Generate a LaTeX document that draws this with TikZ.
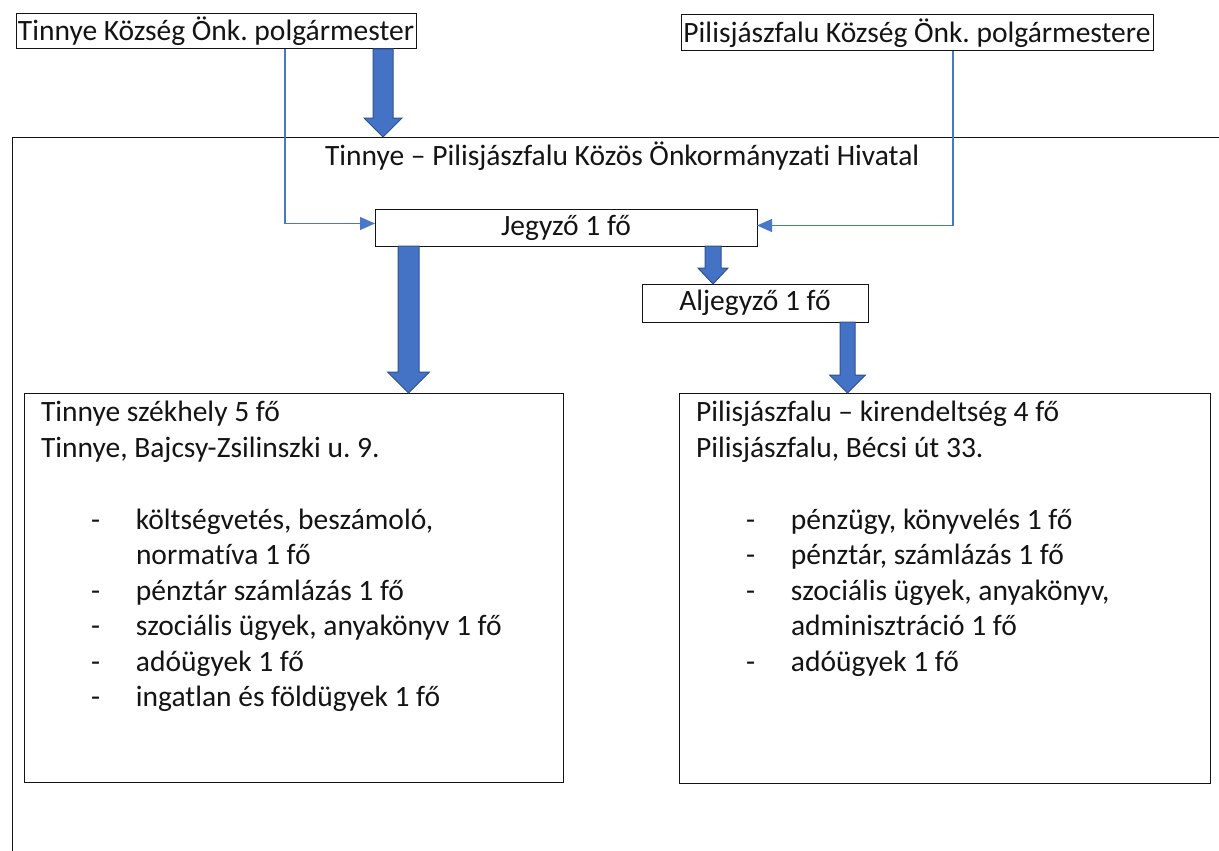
\documentclass[tikz,border=0pt]{standalone}
\usepackage{fontspec}
\setmainfont{Carlito}[Ligatures=NoCommon]
\usetikzlibrary{arrows.meta,calc}
\definecolor{arrfill}{HTML}{4472C4}
\definecolor{arrline}{HTML}{2F528F}
\definecolor{connc}{HTML}{4A78C8}
\definecolor{ink}{HTML}{141414}
\newcommand\fatarrow[6]{%
  \draw[fat] let \p1=(#2 -| #1), \p2=(#3 -| #1) in
    (\x1-#4,\y1) -- (\x1-#4,\y2+#6) -- (\x1-#5,\y2+#6) -- (\x2,\y2)
    -- (\x1+#5,\y2+#6) -- (\x1+#4,\y2+#6) -- (\x1+#4,\y1) -- cycle;}
\frenchspacing
\begin{document}
\frenchspacing
\begin{tikzpicture}[x=1pt,y=-1pt,
  box/.style={draw=ink, line width=1pt, inner sep=0pt, outer sep=0pt,
    font=\fontsize{29.5}{35.7}\selectfont, text=ink},
  txt/.style={inner sep=0pt, outer sep=0pt, anchor=base west,
    font=\fontsize{29.5}{35.7}\selectfont, text=ink},
  conn/.style={draw=connc, line width=1.1pt, -{Triangle[length=15pt,width=13pt]}},
  fat/.style={fill=arrfill, draw=arrline, line width=1pt, line join=miter}]
\useasboundingbox (0,0) rectangle (1219,851);
\fill[white] (0,0) rectangle (1219,851);
\clip (0,0) rectangle (1219,851);

% outer frame
\node[box, minimum width=1240pt, minimum height=760pt, anchor=north west] (outer) at (12,137) {};
\node[txt] (title) at (325,165) {Tinnye – Pilisjászfalu Közös Önkormányzati Hivatal};

% boxes
\node[box, minimum width=400pt, minimum height=35pt] (tl) at (216,31.5) {Tinnye Község Önk. polgármester};
\node[box, minimum width=472pt, minimum height=36pt] (tr) at (917,33) {Pilisjászfalu Község Önk. polgármestere};
\node[box, minimum width=382pt, minimum height=37pt] (jeg) at (566,227.5) {Jegyző 1 fő};
\node[box, minimum width=226pt, minimum height=38pt] (alj) at (755,303) {Aljegyző 1 fő};
\node[box, minimum width=539pt, minimum height=389pt] (lbox) at (293.5,587.5) {};
\node[box, minimum width=531pt, minimum height=390pt] (rbox) at (944.5,588) {};

% left box text
\node[txt] (l1) at (41,421) {Tinnye székhely 5 fő};
\node[txt] (l2) at (41,457) {Tinnye, Bajcsy-Zsilinszki u. 9.};
\node[txt] (l3) at (91,529) {\makebox[45pt][l]{-}költségvetés, beszámoló,};
\node[txt] (l4) at (136,564) {normatíva 1 fő};
\node[txt] (l5) at (91,600) {\makebox[45pt][l]{-}pénztár számlázás 1 fő};
\node[txt] (l6) at (91,635) {\makebox[45pt][l]{-}szociális ügyek, anyakönyv 1 fő};
\node[txt] (l7) at (91,671) {\makebox[45pt][l]{-}adóügyek 1 fő};
\node[txt] (l8) at (91,706) {\makebox[45pt][l]{-}ingatlan és földügyek 1 fő};

% right box text
\node[txt] (r1) at (696,421) {Pilisjászfalu – kirendeltség 4 fő};
\node[txt] (r2) at (696,457) {Pilisjászfalu, Bécsi út 33.};
\node[txt] (r3) at (746,529) {\makebox[45pt][l]{-}pénzügy, könyvelés 1 fő};
\node[txt] (r4) at (746,564) {\makebox[45pt][l]{-}pénztár, számlázás 1 fő};
\node[txt] (r5) at (746,600) {\makebox[45pt][l]{-}szociális ügyek, anyakönyv,};
\node[txt] (r6) at (791,635) {adminisztráció 1 fő};
\node[txt] (r7) at (746,671) {\makebox[45pt][l]{-}adóügyek 1 fő};

% fat arrows
\coordinate (a1) at (383,0);
\coordinate (a2) at (408.5,0);
\coordinate (a3) at (713,0);
\coordinate (a4) at (847.5,0);
\fatarrow{a1}{tl.south}{outer.north}{10pt}{19pt}{19pt}
\fatarrow{a2}{jeg.south}{lbox.north}{10.5pt}{21pt}{21pt}
\fatarrow{a3}{jeg.south}{alj.north}{8pt}{15pt}{16pt}
\fatarrow{a4}{alj.south}{rbox.north}{7.5pt}{18pt}{18pt}

% thin connectors
\coordinate (c1) at (285,0);
\coordinate (c2) at (953,0);
\draw[conn] (tl.south -| c1) |- ([yshift=4pt]jeg.west);
\draw[conn] (tr.south -| c2) |- ([yshift=2pt]jeg.east);
\end{tikzpicture}
\end{document}
